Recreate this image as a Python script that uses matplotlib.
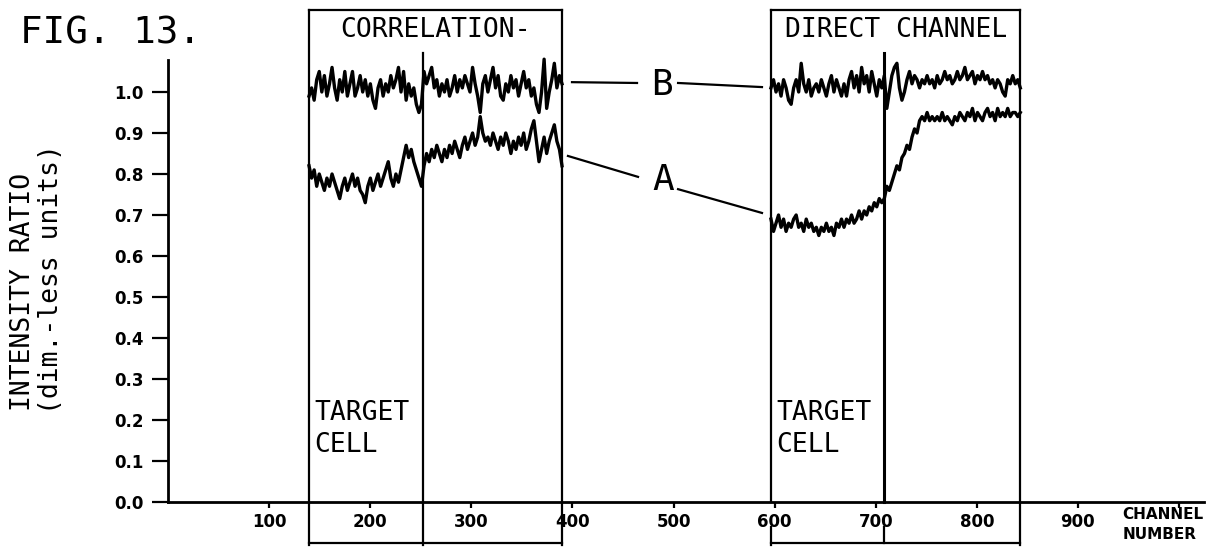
import numpy as np
import matplotlib.pyplot as plt

plt.rcParams['font.family'] = 'DejaVu Sans Mono'

# channel limits of the two windows: left edge, divider, right edge
corr_box = [139.5, 252.0, 389.7]
direct_box = [596.4, 708.0, 843.0]

# intensity ratio traces (evenly spaced across each window)
corr_b = [0.99, 1.01, 0.98, 1.03, 1.05, 1.00, 1.04, 0.99, 1.02, 1.06,
          1.01, 0.98, 1.03, 1.00, 1.05, 0.99, 1.02, 1.05, 0.99, 1.01,
          1.04, 1.00, 1.03, 0.99, 1.02, 0.98, 0.96, 1.01, 1.03, 0.99,
          1.02, 1.00, 1.04, 1.01, 1.03, 1.06, 1.00, 1.05, 0.98, 1.02,
          0.99, 1.01, 0.97, 0.95, 0.97, 1.05, 1.02, 1.04, 1.06, 1.01,
          1.03, 0.99, 1.02, 1.00, 1.03, 0.99, 1.01, 1.04, 1.00, 1.03,
          1.01, 1.04, 1.02, 1.00, 1.06, 1.02, 0.99, 0.95, 1.02, 1.04,
          1.00, 1.03, 1.06, 1.01, 1.04, 0.99, 0.98, 1.02, 1.00, 1.04,
          1.01, 1.03, 0.99, 1.02, 1.05, 1.01, 1.03, 0.99, 1.01, 0.97,
          0.95, 1.00, 1.08, 0.96, 1.00, 1.03, 1.07, 1.01, 1.04, 1.02]
corr_a = [0.82, 0.79, 0.81, 0.77, 0.80, 0.78, 0.76, 0.79, 0.77, 0.80,
          0.78, 0.76, 0.74, 0.77, 0.79, 0.76, 0.78, 0.80, 0.77, 0.79,
          0.76, 0.75, 0.73, 0.77, 0.79, 0.76, 0.78, 0.80, 0.77, 0.79,
          0.81, 0.83, 0.79, 0.77, 0.80, 0.78, 0.81, 0.84, 0.87, 0.84,
          0.86, 0.83, 0.81, 0.79, 0.77, 0.82, 0.85, 0.83, 0.86, 0.84,
          0.87, 0.85, 0.83, 0.86, 0.84, 0.87, 0.85, 0.88, 0.86, 0.84,
          0.87, 0.89, 0.86, 0.88, 0.90, 0.87, 0.89, 0.94, 0.90, 0.88,
          0.89, 0.87, 0.90, 0.88, 0.86, 0.89, 0.87, 0.90, 0.88, 0.85,
          0.88, 0.86, 0.89, 0.87, 0.90, 0.86, 0.88, 0.91, 0.93, 0.88,
          0.83, 0.86, 0.89, 0.85, 0.88, 0.90, 0.92, 0.88, 0.86, 0.82]
direct_b = [1.01, 1.03, 1.00, 1.02, 0.99, 1.03, 1.01, 0.98, 0.97, 1.01,
            1.03, 1.00, 1.07, 1.02, 1.00, 1.03, 0.99, 1.01, 1.02, 1.00,
            1.03, 1.01, 0.99, 1.02, 1.04, 1.00, 1.03, 1.01, 0.99, 1.02,
            0.99, 1.03, 1.05, 1.01, 1.04, 1.00, 1.06, 1.02, 1.04, 1.00,
            1.05, 1.02, 0.99, 1.03, 1.01, 1.04, 0.96, 1.00, 1.04, 1.06,
            1.07, 1.01, 0.98, 1.00, 1.03, 1.05, 1.02, 1.04, 1.03, 1.01,
            1.03, 1.02, 1.04, 1.02, 1.03, 1.01, 1.04, 1.02, 1.03, 1.05,
            1.03, 1.04, 1.02, 1.03, 1.05, 1.03, 1.04, 1.06, 1.03, 1.04,
            1.05, 1.02, 1.04, 1.03, 1.05, 1.03, 1.04, 1.02, 1.03, 1.01,
            1.03, 1.02, 1.00, 0.99, 1.03, 1.02, 1.04, 1.02, 1.03, 1.01]
direct_a = [0.69, 0.66, 0.68, 0.70, 0.67, 0.69, 0.66, 0.68, 0.67, 0.69,
            0.70, 0.67, 0.68, 0.66, 0.69, 0.67, 0.68, 0.66, 0.67, 0.65,
            0.67, 0.66, 0.68, 0.66, 0.67, 0.65, 0.68, 0.67, 0.69, 0.67,
            0.69, 0.68, 0.70, 0.68, 0.69, 0.71, 0.69, 0.71, 0.70, 0.72,
            0.71, 0.73, 0.72, 0.74, 0.73, 0.74, 0.77, 0.76, 0.78, 0.80,
            0.82, 0.81, 0.84, 0.85, 0.87, 0.86, 0.89, 0.91, 0.90, 0.93,
            0.94, 0.93, 0.95, 0.93, 0.94, 0.93, 0.94, 0.93, 0.95, 0.93,
            0.94, 0.93, 0.92, 0.94, 0.93, 0.95, 0.94, 0.93, 0.95, 0.94,
            0.96, 0.93, 0.95, 0.94, 0.93, 0.95, 0.96, 0.94, 0.95, 0.93,
            0.96, 0.94, 0.95, 0.94, 0.96, 0.94, 0.95, 0.95, 0.94, 0.95]

y_ticks = [0.0, 0.1, 0.2, 0.3, 0.4, 0.5, 0.6, 0.7, 0.8, 0.9, 1.0]
y_tick_labels = ["0.0", "0.1", "0.2", "0.3", "0.4", "0.5",
                 "0.6", "0.7", "0.8", "0.9", "1.0"]
x_ticks = [100, 200, 300, 400, 500, 600, 700, 800, 900, 1000]
x_tick_labels = ["100", "200", "300", "400", "500", "600", "700", "800", "900", ""]

W, H = 1226, 553
fig = plt.figure(figsize=(W / 100, H / 100), dpi=100)
# axes placed so that channel 0 / ratio 0 sit where the original axes cross
ax = fig.add_axes([168 / W, 3 / H, (1204 - 168) / W, 545 / H])
ax.set_xlim(0, 1024.7)
ax.set_ylim((502 - 550) / 410, (502 - 5) / 410)

for s in ['top', 'right']:
    ax.spines[s].set_visible(False)
ax.spines['left'].set_bounds(0, 1.078)
ax.spines['bottom'].set_position(('data', 0))
ax.spines['bottom'].set_bounds(0, 1024.7)
for s in ['left', 'bottom']:
    ax.spines[s].set_linewidth(2.0)

ax.set_yticks(y_ticks, y_tick_labels, fontsize=12, fontweight='bold', family='DejaVu Sans')
ax.set_xticks(x_ticks, x_tick_labels, fontsize=12, fontweight='bold', family='DejaVu Sans')
ax.tick_params(axis='y', direction='out', length=11.5, width=1.6, pad=6)
ax.tick_params(axis='x', direction='out', length=4, width=1.6, pad=4)

# window frames with the brackets below the axis
lw_box = 1.6
for box, gap in [(corr_box, False), (direct_box, True)]:
    left, mid, right = box
    ax.plot([left, right], [1.2, 1.2], color='black', lw=lw_box)
    ax.plot([left, right], [-0.1, -0.1], color='black', lw=lw_box)
    ax.plot([right, right], [1.2, -0.105], color='black', lw=lw_box)
    if gap:
        ax.plot([left, left], [1.2, 0], color='black', lw=lw_box)
        ax.plot([mid, mid], [1.095, 0], color='black', lw=lw_box + 0.6)
        ax.plot([left, left], [-0.06, -0.105], color='black', lw=lw_box)
        ax.plot([mid, mid], [-0.06, -0.1], color='black', lw=lw_box)
    else:
        ax.plot([left, left], [1.2, -0.105], color='black', lw=lw_box)
        ax.plot([mid, mid], [1.095, -0.105], color='black', lw=lw_box)

# traces
for box, vals in [(corr_box, corr_b), (corr_box, corr_a),
                  (direct_box, direct_b), (direct_box, direct_a)]:
    xs = np.linspace(box[0], box[2], len(vals))
    ax.plot(xs, vals, color='black', lw=2.4)

ax.text(np.mean([corr_box[0], corr_box[2]]), 1.133, "CORRELATION-",
        ha='center', va='baseline', fontsize=19)
ax.text(np.mean([direct_box[0], direct_box[2]]), 1.133, "DIRECT CHANNEL",
        ha='center', va='baseline', fontsize=19)
for box in [corr_box, direct_box]:
    ax.text(box[0] + 5, 0.2, "TARGET", ha='left', va='baseline', fontsize=19)
    ax.text(box[0] + 5, 0.122, "CELL", ha='left', va='baseline', fontsize=19)

# A / B labels with pointer lines
ax.text(488.6, 0.993, "B", ha='center', va='baseline', fontsize=26)
ax.text(489.6, 0.761, "A", ha='center', va='baseline', fontsize=26)
ax.plot([399.6, 463.9], [1.024, 1.022], color='black', lw=1.6)
ax.plot([504.5, 587.5], [1.022, 1.012], color='black', lw=1.6)
ax.plot([395.6, 464.9], [0.844, 0.793], color='black', lw=1.6)
ax.plot([504.5, 587.5], [0.763, 0.705], color='black', lw=1.6)

ax.text(944, -0.054, "CHANNEL\nNUMBER", ha='left', va='center', fontsize=11,
        fontweight='bold', family='DejaVu Sans', linespacing=1.4)

fig.text(23 / W, (H - 291.5) / H, "INTENSITY RATIO", rotation=90,
         ha='center', va='center', fontsize=19)
fig.text(51 / W, (H - 279) / H, "(dim.-less units)", rotation=90,
         ha='center', va='center', fontsize=19)
fig.text(20 / W, (H - 43) / H, "FIG. 13.", ha='left', va='baseline', fontsize=27)

fig.savefig("out.png", dpi=100)
